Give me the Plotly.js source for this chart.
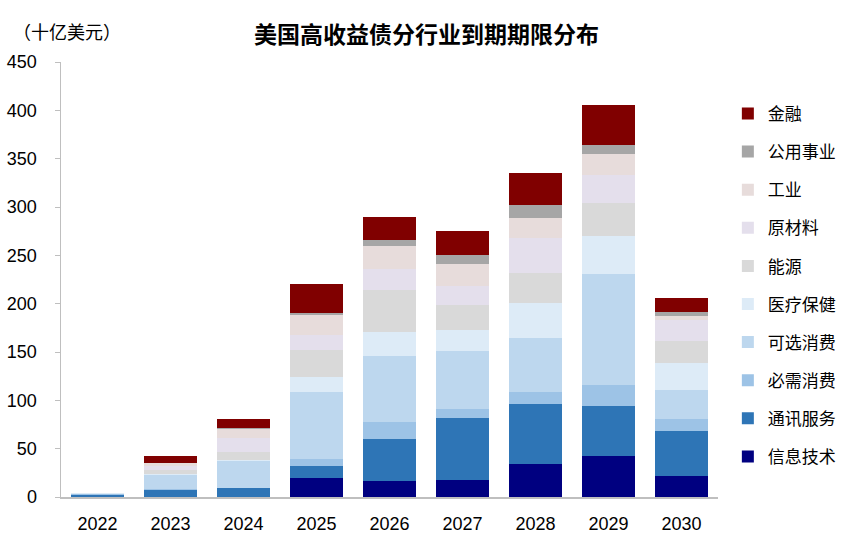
<!DOCTYPE html>
<html>
<head>
<meta charset="utf-8">
<script src="https://cdn.plot.ly/plotly-3.0.1.min.js"></script>
<style>html,body{margin:0;padding:0;background:#fff;}#chart{width:853px;height:540px;}</style>
</head>
<body>
<div id="chart"></div>
<script>
const years = ["2022","2023","2024","2025","2026","2027","2028","2029","2030"];
const sectors = ["信息技术","通讯服务","必需消费","可选消费","医疗保健","能源","原材料","工业","公用事业","金融"];
const infoTech   = [0,   0.3, 0.5, 19.3, 16.9, 17.6, 34.1, 42.7, 21.7];
const telecom    = [2.2, 6.9, 8.3, 12.8, 43.4, 64.5, 62.1, 51.4, 46.6];
const staples    = [0.6, 1.3, 0.8, 7.2,  17.2, 9.3,  12.4, 21.7, 12.8];
const discretion = [0.8, 13.8,27.9,69.6, 68.3, 60.0, 55.9, 115.1,30.0];
const health     = [0.8, 1.4, 1.0, 15.2, 24.8, 21.4, 35.9, 39.3, 27.6];
const energy     = [0,   4.4, 8.0, 27.9, 43.4, 25.9, 31.4, 34.1, 22.8];
const materials  = [0,   4.4, 14.5,15.5, 21.4, 19.7, 36.2, 28.6, 21.7];
const industrial = [0,   2.8, 9.2, 20.7, 24.1, 22.4, 21.0, 21.7, 4.1];
const utilities  = [0,   0.3, 1.0, 1.7,  6.6,  9.3,  12.8, 9.6,  3.8];
const financials = [0,   7.2, 9.7, 30.3, 23.1, 25.2, 33.1, 41.1, 14.5];
const yTicks = [0,50,100,150,200,250,300,350,400,450];

const seriesValues = [infoTech, telecom, staples, discretion, health, energy, materials, industrial, utilities, financials];
const colors = ["#000080","#2E75B6","#9DC3E6","#BDD7EE","#DDEBF7","#D9D9D9","#E4DFEC","#E7DCDB","#A6A6A6","#800000"];

const cjk = '"Noto Sans CJK SC", "Noto Sans", sans-serif';
const latin = 'Arial, "Liberation Sans", sans-serif';

const traces = sectors.map((name, i) => ({
  type: "bar",
  name: name,
  x: years,
  y: seriesValues[i],
  legendgroup: "g" + i,
  legendrank: 100 - i,
  marker: {color: colors[i], line: {width: 0}},
  hoverinfo: "x+y+name"
}));

const layout = {
  width: 853, height: 540,
  margin: {l: 61, r: 128, t: 62, b: 43},
  barmode: "stack",
  bargap: 0.285,
  paper_bgcolor: "#fff", plot_bgcolor: "#fff",
  showlegend: true,
  legend: {
    x: 1.015, xanchor: "left", y: 0.922, yanchor: "top",
    traceorder: "grouped",
    tracegroupgap: 13,
    font: {family: cjk, size: 17, color: "#000"},
    itemwidth: 30
  },
  title: {
    text: "<b>美国高收益债分行业到期期限分布</b>",
    font: {family: cjk, size: 23, color: "#000"},
    x: 0.5, xref: "container", xanchor: "center",
    y: 0.935, yref: "container", yanchor: "middle"
  },
  xaxis: {
    type: "category",
    showline: true, linecolor: "#BFBFBF", linewidth: 1.5,
    ticks: "", showgrid: false, zeroline: false,
    tickfont: {family: latin, size: 18, color: "#000"},
    ticklabelstandoff: 10
  },
  yaxis: {
    range: [0, 450],
    tickvals: yTicks,
    ticktext: yTicks.map(String),
    showline: true, linecolor: "#BFBFBF", linewidth: 1.5,
    ticks: "outside", ticklen: 5, tickcolor: "#BFBFBF",
    showgrid: false, zeroline: false,
    tickfont: {family: latin, size: 18, color: "#000"},
    ticklabelstandoff: 14
  },
  annotations: [{
    text: "（十亿美元）",
    xref: "paper", yref: "paper",
    x: 0, y: 1,
    xanchor: "left", yanchor: "middle",
    xshift: -50, yshift: 31,
    showarrow: false,
    font: {family: cjk, size: 18, color: "#000"}
  }]
};

Plotly.newPlot("chart", traces, layout, {displayModeBar: false, staticPlot: true});
</script>
</body>
</html>
